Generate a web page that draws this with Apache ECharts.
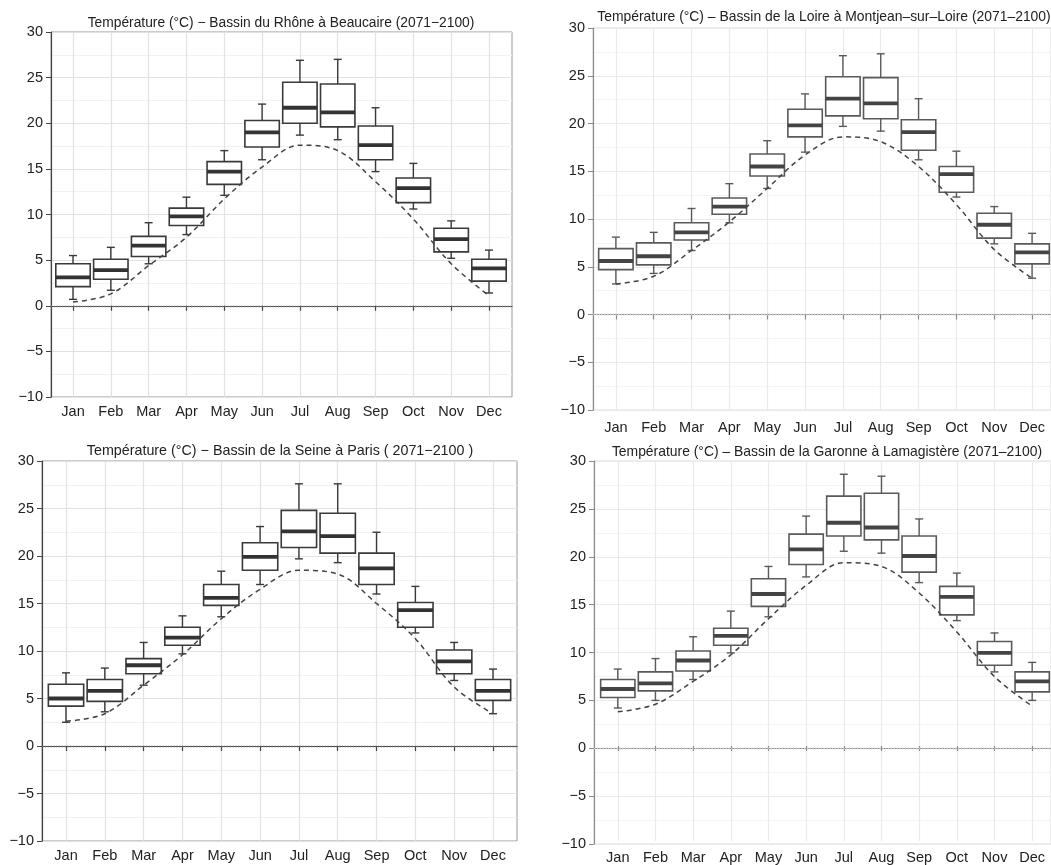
<!DOCTYPE html>
<html>
<head>
<meta charset="utf-8">
<script src="https://cdn.jsdelivr.net/npm/echarts@6/dist/echarts.min.js"></script>
<style>
html,body{margin:0;padding:0;background:#fff;}
#chart{width:1051px;height:865px;}
</style>
</head>
<body>
<div id="chart"></div>
<script>
// ---------- DATA ----------
const months = ['Jan','Feb','Mar','Apr','May','Jun','Jul','Aug','Sep','Oct','Nov','Dec'];
const yTicks = [-10, -5, 0, 5, 10, 15, 20, 25, 30];

const titleRhone = 'Température (°C) − Bassin du Rhône à Beaucaire (2071−2100)';
const rhoneMin = [0.7, 1.7, 4.6, 7.8, 12.1, 16.0, 18.7, 18.2, 14.7, 10.6, 5.2, 1.4];
const rhoneQ1  = [2.1, 2.9, 5.4, 8.8, 13.3, 17.4, 20.0, 19.6, 16.0, 11.3, 5.9, 2.7];
const rhoneMed = [3.1, 3.9, 6.6, 9.8, 14.7, 19.0, 21.7, 21.2, 17.6, 12.9, 7.3, 4.1];
const rhoneQ3  = [4.6, 5.1, 7.6, 10.7, 15.8, 20.3, 24.5, 24.3, 19.7, 14.0, 8.5, 5.1];
const rhoneMax = [5.5, 6.4, 9.1, 11.9, 17.0, 22.1, 26.9, 27.0, 21.7, 15.6, 9.3, 6.1];
const rhoneRef = [0.4, 1.3, 4.4, 7.5, 11.7, 15.2, 17.6, 17.0, 13.6, 9.5, 4.6, 1.1];

const titleLoire = 'Température (°C) – Bassin de la Loire à Montjean–sur–Loire (2071–2100)';
const loireMin = [3.2, 4.3, 6.7, 9.6, 13.2, 17.0, 19.7, 19.2, 16.2, 12.3, 7.4, 3.8];
const loireQ1  = [4.7, 5.2, 7.8, 10.5, 14.5, 18.6, 20.8, 20.5, 17.2, 12.8, 8.0, 5.3];
const loireMed = [5.6, 6.1, 8.6, 11.3, 15.5, 19.8, 22.6, 22.1, 19.1, 14.7, 9.4, 6.5];
const loireQ3  = [6.9, 7.5, 9.6, 12.2, 16.8, 21.5, 24.9, 24.8, 20.4, 15.5, 10.6, 7.4];
const loireMax = [8.1, 8.6, 11.1, 13.7, 18.2, 23.1, 27.1, 27.3, 22.6, 17.1, 11.3, 8.5];
const loireRef = [3.2, 4.0, 6.7, 9.7, 13.2, 16.7, 18.6, 18.1, 15.5, 11.5, 6.8, 3.8];

const titleSeine = 'Température (°C) − Bassin de la Seine à Paris ( 2071−2100 )';
const seineMin = [2.5, 3.6, 6.4, 9.7, 13.6, 17.0, 19.7, 19.3, 16.0, 11.9, 6.9, 3.4];
const seineQ1  = [4.2, 4.7, 7.6, 10.6, 14.8, 18.5, 20.9, 20.3, 17.0, 12.5, 7.6, 4.8];
const seineMed = [5.0, 5.8, 8.5, 11.4, 15.6, 19.9, 22.6, 22.1, 18.7, 14.3, 8.9, 5.8];
const seineQ3  = [6.5, 7.0, 9.2, 12.5, 17.0, 21.4, 24.8, 24.5, 20.3, 15.1, 10.1, 7.0];
const seineMax = [7.7, 8.2, 10.9, 13.7, 18.4, 23.1, 27.6, 27.6, 22.5, 16.8, 10.9, 8.1];
const seineRef = [2.6, 3.4, 6.4, 9.6, 13.4, 16.5, 18.5, 18.1, 15.0, 11.3, 6.2, 3.4];

const titleGaronne = 'Température (°C) – Bassin de la Garonne à Lamagistère (2071–2100)';
const garonneMin = [4.0, 4.8, 7.0, 9.8, 13.6, 17.8, 20.5, 20.3, 17.2, 13.2, 7.8, 4.8];
const garonneQ1  = [5.1, 5.8, 7.9, 10.6, 14.7, 19.1, 22.1, 21.7, 18.3, 13.8, 8.5, 5.7];
const garonneMed = [6.0, 6.6, 9.0, 11.6, 16.0, 20.7, 23.5, 23.0, 20.0, 15.7, 9.8, 6.8];
const garonneQ3  = [7.0, 7.8, 10.0, 12.4, 17.6, 22.3, 26.3, 26.6, 22.1, 16.8, 11.0, 7.8];
const garonneMax = [8.1, 9.2, 11.5, 14.2, 18.9, 24.2, 28.6, 28.4, 23.9, 18.2, 11.9, 8.8];
const garonneRef = [3.6, 4.4, 6.8, 9.6, 13.4, 16.9, 19.3, 18.9, 16.1, 12.0, 7.3, 4.2];

// ---------- LAYOUT / STYLE ----------
const FONT = '"Liberation Sans", Arial, Helvetica, sans-serif';
const panels = [
  { title: titleRhone, tx: 281, ty: 16, tSize: 13.8,
    frame: {left: 51, top: 32, width: 461, height: 365},
    inner: {janX: 73, decX: 489}, xMargin: 7,
    stats: [rhoneMin, rhoneQ1, rhoneMed, rhoneQ3, rhoneMax], ref: rhoneRef,
    axisColor: '#444', borderColor: '#999', boxColor: '#3a3a3a', medColor: '#333',
    zeroColor: '#777', zeroType: 'dotted', grid: '#e2e2e2', minor: '#f1f1f1' },
  { title: titleLoire, tx: 824, ty: 10, tSize: 13.9,
    frame: {left: 593, top: 28, width: 470, height: 382},
    inner: {janX: 616, decX: 1035}, xMargin: 10,
    stats: [loireMin, loireQ1, loireMed, loireQ3, loireMax], ref: loireRef,
    axisColor: '#8a8a8a', borderColor: '#dcdcdc', boxColor: '#5a5a5a', medColor: '#444',
    zeroColor: '#c8c8c8', zeroType: 'dotted', grid: '#eaeaea', minor: '#f4f4f4' },
  { title: titleSeine, tx: 280, ty: 444, tSize: 14.3,
    frame: {left: 42, top: 461, width: 475, height: 380},
    inner: {janX: 66, decX: 493}, xMargin: 7,
    stats: [seineMin, seineQ1, seineMed, seineQ3, seineMax], ref: seineRef,
    axisColor: '#444', borderColor: '#999', boxColor: '#3a3a3a', medColor: '#333',
    zeroColor: '#666', zeroType: 'dotted', grid: '#e2e2e2', minor: '#f1f1f1' },
  { title: titleGaronne, tx: 827, ty: 445, tSize: 13.9,
    frame: {left: 594, top: 461, width: 470, height: 383},
    inner: {janX: 618, decX: 1037}, xMargin: 9,
    stats: [garonneMin, garonneQ1, garonneMed, garonneQ3, garonneMax], ref: garonneRef,
    axisColor: '#8a8a8a', borderColor: '#dcdcdc', boxColor: '#5a5a5a', medColor: '#444',
    zeroColor: '#c8c8c8', zeroType: 'dotted', grid: '#eaeaea', minor: '#f4f4f4' }
];

function makeRender(p) {
  return function (params, api) {
    const idx = api.value(0);
    const pMin = api.coord([idx, api.value(1)]);
    const pQ1 = api.coord([idx, api.value(2)]);
    const pMed = api.coord([idx, api.value(3)]);
    const pQ3 = api.coord([idx, api.value(4)]);
    const pMax = api.coord([idx, api.value(5)]);
    const band = api.size([1, 0])[0];
    const bw = band * 0.91;
    const cw = 8;
    const x = pMed[0];
    const st = {stroke: p.boxColor, lineWidth: 1.4};
    return {
      type: 'group',
      children: [
        {type: 'line', shape: {x1: x, y1: pMin[1], x2: x, y2: pQ1[1]}, style: st},
        {type: 'line', shape: {x1: x, y1: pQ3[1], x2: x, y2: pMax[1]}, style: st},
        {type: 'line', shape: {x1: x - cw / 2, y1: pMin[1], x2: x + cw / 2, y2: pMin[1]}, style: st},
        {type: 'line', shape: {x1: x - cw / 2, y1: pMax[1], x2: x + cw / 2, y2: pMax[1]}, style: st},
        {type: 'rect', shape: {x: x - bw / 2, y: pQ3[1], width: bw, height: pQ1[1] - pQ3[1]},
          style: {fill: '#fff', stroke: p.boxColor, lineWidth: 1.6}},
        {type: 'line', shape: {x1: x - bw / 2, y1: pMed[1], x2: x + bw / 2, y2: pMed[1]},
          style: {stroke: p.medColor, lineWidth: 3.8}}
      ]
    };
  };
}

function minusFmt(v) { return String(v).replace('-', '\u2212'); }

const option = {
  animation: false,
  backgroundColor: '#fff',
  title: [], grid: [], xAxis: [], yAxis: [], series: []
};

panels.forEach(function (p, k) {
  const band = (p.inner.decX - p.inner.janX) / (months.length - 1);
  const innerLeft = p.inner.janX - band / 2;
  const gA = 2 * k, gB = 2 * k + 1;

  option.title.push({
    text: p.title, left: p.tx, top: p.ty, textAlign: 'center', padding: 0,
    textStyle: {fontFamily: FONT, fontSize: p.tSize, fontWeight: 'normal', color: '#222'}
  });

  option.grid.push({left: p.frame.left, top: p.frame.top, width: p.frame.width, height: p.frame.height,
    show: true, borderColor: p.borderColor, borderWidth: 1, backgroundColor: '#fff', containLabel: false});
  option.grid.push({left: innerLeft, top: p.frame.top, width: band * months.length, height: p.frame.height,
    containLabel: false});

  // frame axes
  option.xAxis.push({type: 'value', gridIndex: gA, min: 0, max: 1, position: 'bottom',
    axisLine: {show: true, lineStyle: {color: p.axisColor, width: 1.2}},
    axisTick: {show: false}, axisLabel: {show: false}, splitLine: {show: false}});
  option.yAxis.push({type: 'value', gridIndex: gA, min: yTicks[0], max: yTicks[yTicks.length - 1], interval: 5,
    axisLine: {show: true, lineStyle: {color: p.axisColor, width: 1.2}},
    axisTick: {show: true, inside: false, length: 5, lineStyle: {color: p.axisColor}},
    axisLabel: {show: true, margin: 8, fontFamily: FONT, fontSize: 14.5, color: '#222', formatter: minusFmt},
    splitLine: {show: true, lineStyle: {color: p.grid, width: 1.2}},
    minorTick: {show: false, splitNumber: 2},
    minorSplitLine: {show: true, lineStyle: {color: p.minor, width: 1}}});

  // content axes
  option.xAxis.push({type: 'category', gridIndex: gB, data: months, boundaryGap: true, position: 'bottom',
    axisLine: {show: false},
    axisTick: {show: true, alignWithLabel: true, interval: 0, length: 5, lineStyle: {color: p.axisColor, width: 1.2}},
    axisLabel: {show: true, interval: 0, margin: p.xMargin, fontFamily: FONT, fontSize: 14.5, color: '#222'},
    splitLine: {show: true, alignWithLabel: true, interval: 0, lineStyle: {color: p.grid, width: 1.2}}});
  option.yAxis.push({type: 'value', gridIndex: gB, min: yTicks[0], max: yTicks[yTicks.length - 1], interval: 5,
    show: false, splitLine: {show: false}});

  // zero line (spans frame)
  option.series.push({type: 'line', xAxisIndex: gA, yAxisIndex: gA, data: [], silent: true,
    markLine: {silent: true, symbol: 'none', label: {show: false},
      lineStyle: {color: p.zeroColor, type: p.zeroType, width: 1.4},
      data: [{yAxis: 0}]}});

  // boxes
  const boxData = months.map(function (m, i) {
    return [i, p.stats[0][i], p.stats[1][i], p.stats[2][i], p.stats[3][i], p.stats[4][i]];
  });
  option.series.push({type: 'custom', xAxisIndex: gB, yAxisIndex: gB, data: boxData,
    encode: {x: 0, y: [1, 2, 3, 4, 5]}, renderItem: makeRender(p), z: 3});

  // reference dashed curve
  option.series.push({type: 'line', xAxisIndex: gB, yAxisIndex: gB, data: p.ref, smooth: 0.35,
    symbol: 'none', z: 4, silent: true,
    lineStyle: {color: '#444', width: 1.5, type: [5, 4]}});
});

const chart = echarts.init(document.getElementById('chart'), null, {renderer: 'canvas'});
chart.setOption(option);
</script>
</body>
</html>
